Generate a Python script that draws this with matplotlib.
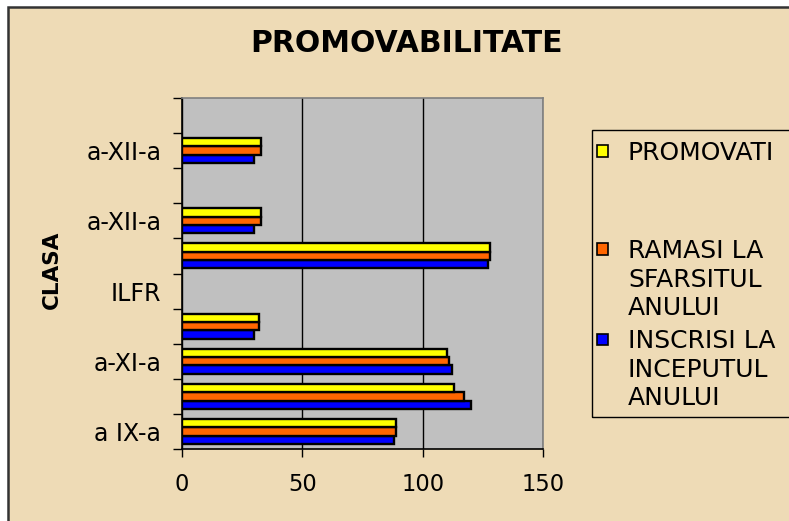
import numpy as np
import matplotlib
matplotlib.use('Agg')
import matplotlib.pyplot as plt
from matplotlib.patches import Rectangle

# categories from bottom to top (only every other label is shown in the original)
clase = ['a IX-a', '', 'a-XI-a', '', 'ILFR', '', 'a-XII-a', '', 'a-XII-a', '']

inscrisi = [88, 120, 112, 30, np.nan, 127, 30, np.nan, 30, np.nan]
ramasi = [89, 117, 111, 32, np.nan, 128, 33, np.nan, 33, np.nan]
promovati = [89, 113, 110, 32, np.nan, 128, 33, np.nan, 33, np.nan]

series = [inscrisi, ramasi, promovati]
serie_names = ['INSCRISI LA\nINCEPUTUL\nANULUI', 'RAMASI LA\nSFARSITUL\nANULUI', 'PROMOVATI']
colors = ['#0000FF', '#FF6600', '#FFFF00']

x_ticks = [0, 50, 100, 150]

W, H = 789, 521
fig = plt.figure(figsize=(W / 100, H / 100), dpi=100)
fig.patch.set_facecolor('white')

# chart area background with dark border
fig.patches.append(Rectangle((8 / W, -0.05), 1.1, 1 - 7 / H + 0.05, transform=fig.transFigure,
                             facecolor='#EEDBB6', edgecolor='#333333', linewidth=1.8, zorder=-5))

ax = fig.add_axes([182 / W, 1 - 449 / H, (543 - 182) / W, (449 - 98) / H])
ax.set_facecolor('#C0C0C0')

y = np.arange(len(clase))
bh = 0.714 / 3
for i, (vals, c) in enumerate(zip(series, colors)):
    ax.barh(y + (i - 1) * bh, vals, height=bh, color=c, edgecolor='black', linewidth=1.7, zorder=3)

ax.set_xlim(0, 150)
ax.set_ylim(-0.5, len(clase) - 0.5)
ax.set_xticks(x_ticks)
ax.set_xticklabels([str(v) for v in x_ticks], fontsize=16.3)
ax.tick_params(axis='x', direction='out', length=6, width=1, pad=11)
ax.set_yticks(np.arange(len(clase) + 1) - 0.5)
ax.set_yticklabels([])
ax.set_yticks(y, minor=True)
ax.set_yticklabels(clase, minor=True, fontsize=17)
ax.tick_params(axis='y', which='major', direction='out', length=6.5, width=1)
ax.tick_params(axis='y', which='minor', length=0, pad=15)

ax.grid(axis='x', color='black', linewidth=1, zorder=1)
ax.grid(axis='y', visible=False)
ax.set_axisbelow(True)
for s in ['left', 'bottom']:
    ax.spines[s].set_color('black')
    ax.spines[s].set_linewidth(1.2)
for s in ['top', 'right']:
    ax.spines[s].set_color('#808080')
    ax.spines[s].set_linewidth(1.2)

fig.text(407 / W, 1 - 44 / H, 'PROMOVABILITATE', ha='center', va='center',
         fontsize=21.5, fontweight='bold')
fig.text(52 / W, 1 - 270 / H, 'CLASA', rotation=90, ha='center', va='center',
         fontsize=15.5, fontweight='bold')

# legend drawn by hand so entries spread like the original
fig.patches.append(Rectangle((592 / W, 1 - 417 / H), 0.5, (417 - 130) / H, transform=fig.transFigure,
                             facecolor='none', edgecolor='black', linewidth=1))
leg_y = [151, 249, 339]
leg_order = [2, 1, 0]
for yy, k in zip(leg_y, leg_order):
    fig.patches.append(Rectangle((597 / W, 1 - (yy + 5.5) / H), 11 / W, 11 / H, transform=fig.transFigure,
                                 facecolor=colors[k], edgecolor='black', linewidth=1.2))
    fig.text(628 / W, 1 - (yy - 10) / H, serie_names[k], ha='left', va='top',
             fontsize=18, linespacing=1.24)

fig.savefig('out.png', dpi=100)
